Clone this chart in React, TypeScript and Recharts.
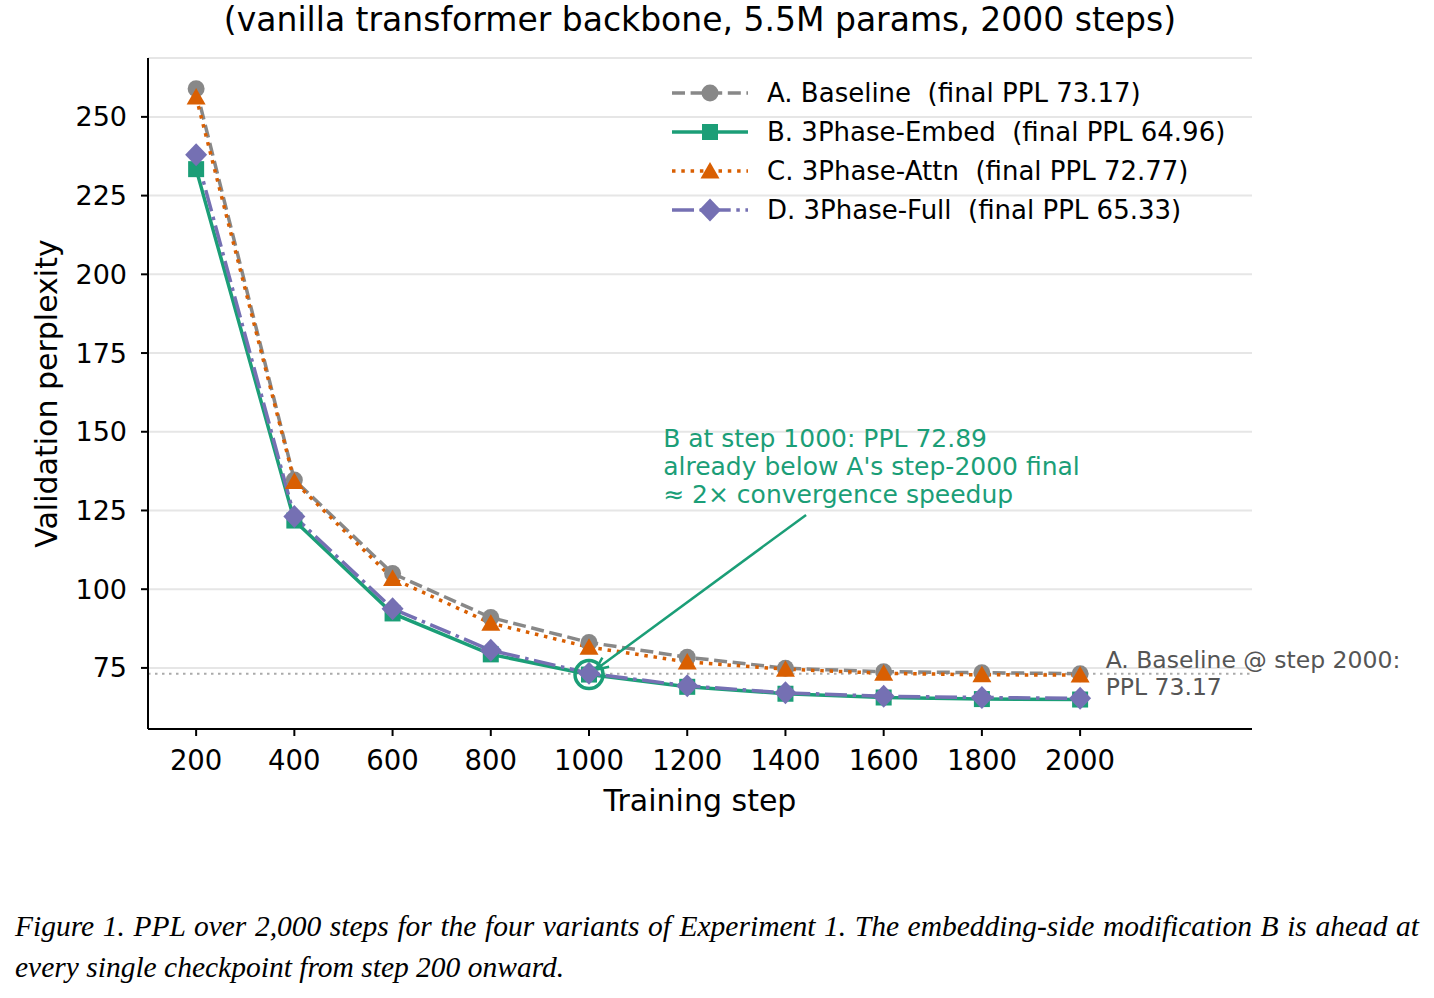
import { LineChart, Line, XAxis, YAxis, CartesianGrid, ReferenceLine, ReferenceDot } from "recharts";

// validation perplexity per checkpoint, one array per variant
const steps = [200, 400, 600, 800, 1000, 1200, 1400, 1600, 1800, 2000];
const pplBaseline = [258.9, 134.7, 105.0, 91.0, 83.1, 78.4, 74.9, 73.8, 73.5, 73.17];
const pplEmbed = [233.4, 121.8, 92.3, 79.3, 72.89, 69.0, 66.8, 65.6, 65.1, 64.96];
const pplAttn = [256.3, 134.2, 103.4, 89.2, 81.6, 76.9, 74.6, 73.3, 72.8, 72.77];
const pplFull = [238.0, 123.1, 93.8, 80.6, 73.3, 69.3, 67.1, 66.0, 65.6, 65.33];
const yTicks = [75, 100, 125, 150, 175, 200, 225, 250];

const FONT = "DejaVu Sans";
const GREEN = "#1b9e77";

type Marker = "circle" | "square" | "triangle" | "diamond";

const series: { key: string; name: string; values: number[]; color: string; dash?: string; marker: Marker }[] = [
  { key: "a", name: "A. Baseline", values: pplBaseline, color: "#888888", dash: "13 5.6", marker: "circle" },
  { key: "b", name: "B. 3Phase-Embed", values: pplEmbed, color: GREEN, marker: "square" },
  { key: "c", name: "C. 3Phase-Attn", values: pplAttn, color: "#d95f02", dash: "3.5 5.8", marker: "triangle" },
  { key: "d", name: "D. 3Phase-Full", values: pplFull, color: "#7570b3", dash: "22 5.6 3.5 5.6", marker: "diamond" },
];

const rows = steps.map((step, i) => {
  const row: Record<string, number> = { step };
  series.forEach((s) => (row[s.key] = s.values[i]));
  return row;
});

const baselineFinal = pplBaseline[pplBaseline.length - 1];
const embedAt1000 = pplEmbed[steps.indexOf(1000)];

function markerShape(kind: Marker, cx: number, cy: number, color: string, key?: string | number) {
  if (kind === "circle") return <circle key={key} cx={cx} cy={cy} r={8.5} fill={color} />;
  if (kind === "square") return <rect key={key} x={cx - 8} y={cy - 8} width={16} height={16} fill={color} />;
  if (kind === "triangle")
    return <polygon key={key} points={`${cx},${cy - 9} ${cx - 9.5},${cy + 7.5} ${cx + 9.5},${cy + 7.5}`} fill={color} />;
  return <polygon key={key} points={`${cx},${cy - 11.5} ${cx + 11},${cy} ${cx},${cy + 11.5} ${cx - 11},${cy}`} fill={color} />;
}

function LegendBlock() {
  return (
    <div style={{ position: "absolute", left: 668, top: 73, fontFamily: FONT, fontSize: 26 }}>
      {series.map((s) => (
        <div key={s.key} style={{ display: "flex", alignItems: "center", height: 39 }}>
          <svg width={84} height={30} style={{ marginRight: 15 }}>
            <line x1={4} y1={15} x2={80} y2={15} stroke={s.color} strokeWidth={3.5} strokeDasharray={s.dash} />
            {markerShape(s.marker, 42, 15, s.color)}
          </svg>
          <span style={{ whiteSpace: "pre" }}>{`${s.name}  (final PPL ${s.values[s.values.length - 1].toFixed(2)})`}</span>
        </div>
      ))}
    </div>
  );
}

// arrow from the note down to B's step-1000 point, stopping short of the marker
function NoteArrow(props: any) {
  const { x1, y1, x2, y2 } = props;
  const dx = x2 - x1;
  const dy = y2 - y1;
  const len = Math.hypot(dx, dy);
  const ux = dx / len;
  const uy = dy / len;
  const tx = x2 - ux * 8;
  const ty = y2 - uy * 8;
  const head = 14;
  const spread = 0.42;
  const ang = Math.atan2(-uy, -ux);
  const h1x = tx + head * Math.cos(ang + spread);
  const h1y = ty + head * Math.sin(ang + spread);
  const h2x = tx + head * Math.cos(ang - spread);
  const h2y = ty + head * Math.sin(ang - spread);
  return (
    <g stroke={GREEN} strokeWidth={2.5} fill="none">
      <line x1={x1} y1={y1} x2={tx} y2={ty} />
      <polyline points={`${h1x},${h1y} ${tx},${ty} ${h2x},${h2y}`} />
    </g>
  );
}

const captionStyle = {
  fontFamily: "Liberation Serif",
  fontStyle: "italic",
  fontSize: 29.5,
  lineHeight: "41px",
  color: "#000",
  whiteSpace: "nowrap" as const,
};

export default function App() {
  return (
    <div style={{ position: "absolute", left: 0, top: 0, width: 1434, height: 998, background: "#fff", fontFamily: FONT }}>
      <div style={{ position: "absolute", left: 0, top: 0, width: 1400, height: 40, lineHeight: "40px", textAlign: "center", fontSize: 33, color: "#000" }}>
        (vanilla transformer backbone, 5.5M params, 2000 steps)
      </div>
      <LineChart width={1434} height={850} data={rows} margin={{ top: 58, right: 182, bottom: 31, left: 0 }}>
        <CartesianGrid vertical={false} stroke="#e6e6e6" strokeWidth={2} />
        <XAxis
          dataKey="step"
          type="number"
          domain={[102, 2350]}
          ticks={steps}
          allowDataOverflow
          height={90}
          stroke="#000"
          axisLine={{ stroke: "#000", strokeWidth: 2 }}
          tickLine={{ stroke: "#000", strokeWidth: 2 }}
          tickSize={7}
          tickMargin={14}
          tick={{ fill: "#000", fontSize: 27.5, fontFamily: FONT }}
          label={{
            content: (p: any) => (
              <text x={p.viewBox.x + p.viewBox.width / 2} y={800} textAnchor="middle" dominantBaseline="central" fontSize={30} fontFamily={FONT} fill="#000">
                Training step
              </text>
            ),
          }}
        />
        <YAxis
          type="number"
          domain={[55.6, 268.7]}
          ticks={yTicks}
          allowDataOverflow
          width={148}
          axisLine={{ stroke: "#000", strokeWidth: 2 }}
          tickLine={{ stroke: "#000", strokeWidth: 2 }}
          tickSize={7}
          tickMargin={14}
          tick={{ fill: "#000", fontSize: 27, fontFamily: FONT }}
          label={{
            content: (p: any) => {
              const cy = p.viewBox.y + p.viewBox.height / 2;
              return (
                <text x={46} y={cy} transform={`rotate(-90 46 ${cy})`} textAnchor="middle" dominantBaseline="central" fontSize={30} fontFamily={FONT} fill="#000">
                  Validation perplexity
                </text>
              );
            },
          }}
        />
        <ReferenceLine y={baselineFinal} stroke="#aaaaaa" strokeWidth={2} strokeDasharray="2.5 4.5" />
        <ReferenceDot
          x={2052}
          y={baselineFinal}
          r={0}
          shape={(p: any) => (
            <text x={p.cx} y={p.cy} fontSize={23.5} fontFamily={FONT} fill="#555555">
              <tspan x={p.cx} dy={-6}>A. Baseline @ step 2000:</tspan>
              <tspan x={p.cx} dy={27}>PPL {baselineFinal.toFixed(2)}</tspan>
            </text>
          )}
        />
        {series.map((s) => (
          <Line
            key={s.key}
            dataKey={s.key}
            name={s.name}
            type="linear"
            stroke={s.color}
            strokeWidth={3.5}
            strokeDasharray={s.dash}
            isAnimationActive={false}
            dot={(p: any) => markerShape(s.marker, p.cx, p.cy, s.color, `${s.key}-${p.index}`)}
            activeDot={false}
          />
        ))}
        <ReferenceLine
          segment={[
            { x: 1442, y: 123.6 },
            { x: 1000, y: embedAt1000 },
          ]}
          shape={NoteArrow}
        />
        <ReferenceDot x={1000} y={embedAt1000} r={14} fill="none" stroke={GREEN} strokeWidth={3.5} />
        <ReferenceDot
          x={1151}
          y={148}
          r={0}
          shape={(p: any) => (
            <text fontSize={25} fontFamily={FONT} fill={GREEN} dominantBaseline="central">
              <tspan x={p.cx} y={p.cy}>B at step 1000: PPL {embedAt1000.toFixed(2)}</tspan>
              <tspan x={p.cx} y={p.cy + 28}>already below A's step-2000 final</tspan>
              <tspan x={p.cx} y={p.cy + 56}>≈ 2× convergence speedup</tspan>
            </text>
          )}
        />
      </LineChart>
      <LegendBlock />
      <div style={{ position: "absolute", left: 15, top: 906, width: 1404 }}>
        <div style={{ ...captionStyle, textAlign: "justify", textAlignLast: "justify" }}>
          Figure 1. PPL over 2,000 steps for the four variants of Experiment 1. The embedding-side modification B is ahead at
        </div>
        <div style={captionStyle}>every single checkpoint from step 200 onward.</div>
      </div>
    </div>
  );
}
